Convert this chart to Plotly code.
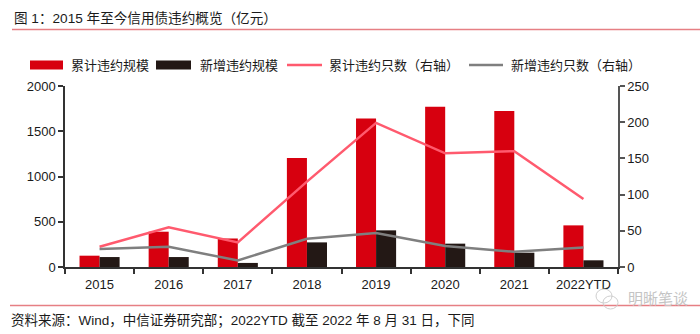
import plotly.graph_objects as go

years = ["2015", "2016", "2017", "2018", "2019", "2020", "2021", "2022YTD"]
cum_amount = [125, 390, 315, 1205, 1640, 1770, 1725, 460]      # 累计违约规模（亿元）
new_amount = [110, 110, 45, 272, 405, 258, 158, 74]            # 新增违约规模（亿元）
cum_count = [28, 55, 34, 118, 199, 157, 160, 94]               # 累计违约只数
new_count = [25, 28, 9, 39, 47, 29, 21, 27]                    # 新增违约只数

RED = "#d7000f"
DARK = "#231815"
PINK = "#ff5a6e"
GRAY = "#7f7f7f"
RULE = "#e67f84"
FONT = "Liberation Sans, Arial, Noto Sans CJK SC, sans-serif"

fig = go.Figure()
fig.add_bar(x=years, y=cum_amount, name="累计违约规模", marker_color=RED,
            marker_line_width=0, offsetgroup="a")
fig.add_bar(x=years, y=new_amount, name="新增违约规模", marker_color=DARK,
            marker_line_width=0, offsetgroup="b")
fig.add_scatter(x=years, y=cum_count, name="累计违约只数（右轴）", mode="lines",
                line=dict(color=PINK, width=2.5), yaxis="y2")
fig.add_scatter(x=years, y=new_count, name="新增违约只数（右轴）", mode="lines",
                line=dict(color=GRAY, width=2.5), yaxis="y2")

W, H = 700, 334
L, R, T, B = 65, 82, 86, 67
PW, PH = W - L - R, H - T - B

axis_common = dict(showgrid=False, zeroline=False, showline=True, linewidth=1.5,
                   ticks="outside", ticklen=5, tickwidth=1.5,
                   tickfont=dict(family=FONT, size=13, color="#1a1a1a"))

fig.update_layout(
    width=W, height=H,
    margin=dict(l=L, r=R, t=T, b=B),
    paper_bgcolor="white", plot_bgcolor="white",
    showlegend=False,
    barmode="group", bargap=0.42, bargroupgap=0,
    font=dict(family=FONT, size=13, color="#1a1a1a"),
    xaxis=dict(axis_common, linecolor="#333333", tickcolor="#333333",
               tickson="boundaries", ticklabelstandoff=5),
    yaxis=dict(axis_common, range=[0, 2000], dtick=500,
               linecolor="#333333", tickcolor="#333333"),
    yaxis2=dict(axis_common, range=[0, 250], dtick=50, overlaying="y", side="right",
                linecolor="#555555", tickcolor="#555555"),
)

shapes = []
annotations = []

# pixel position on the page -> paper coordinates (relative to the plot area)
def px(x):
    return (x - L) / PW

def py(y):
    return 1 - (y - T) / PH

# title and rules
annotations.append(dict(text="图 1：2015 年至今信用债违约概览（亿元）", x=px(12), y=py(18),
                        xref="paper", yref="paper", xanchor="left", yanchor="middle",
                        showarrow=False, font=dict(family=FONT, size=13.6, color="#1a1a1a")))
shapes.append(dict(type="line", xref="paper", yref="paper", x0=px(12), x1=px(700),
                   y0=py(29.5), y1=py(29.5), line=dict(color=RULE, width=1.5)))
shapes.append(dict(type="line", xref="paper", yref="paper", x0=px(10), x1=px(700),
                   y0=py(305.5), y1=py(305.5), line=dict(color=RULE, width=1.5)))
annotations.append(dict(text="资料来源：Wind，中信证券研究部；2022YTD 截至 2022 年 8 月 31 日，下同",
                        x=px(9), y=py(321), xref="paper", yref="paper",
                        xanchor="left", yanchor="middle", showarrow=False,
                        font=dict(family=FONT, size=13.5, color="#1a1a1a")))
annotations.append(dict(text="明晰笔谈", x=px(690), y=py(297), xref="paper", yref="paper",
                        xanchor="right", yanchor="middle", showarrow=False,
                        font=dict(family="Noto Sans CJK SC", size=15, color="#c4c4c4")))
shapes.append(dict(type="circle", xref="paper", yref="paper", x0=px(596), x1=px(612),
                   y0=py(303), y1=py(289), line=dict(color="#cfcfcf", width=1)))
shapes.append(dict(type="circle", xref="paper", yref="paper", x0=px(603), x1=px(618),
                   y0=py(309), y1=py(296), line=dict(color="#cfcfcf", width=1)))

# legend
ly = 65
legend_items = [
    ("rect", RED, 30, 63, "累计违约规模", 69),
    ("rect", DARK, 156, 191, "新增违约规模", 198),
    ("line", PINK, 287, 322, "累计违约只数（右轴）", 327),
    ("line", GRAY, 469, 503, "新增违约只数（右轴）", 509),
]
for kind, color, x0, x1, label, tx in legend_items:
    if kind == "rect":
        shapes.append(dict(type="rect", xref="paper", yref="paper", x0=px(x0), x1=px(x1),
                           y0=py(ly + 4.5), y1=py(ly - 4.5), fillcolor=color, line_width=0))
    else:
        shapes.append(dict(type="line", xref="paper", yref="paper", x0=px(x0), x1=px(x1),
                           y0=py(ly), y1=py(ly), line=dict(color=color, width=2.5)))
    annotations.append(dict(text=label, x=px(tx), y=py(ly), xref="paper", yref="paper",
                            xanchor="left", yanchor="middle", showarrow=False,
                            font=dict(family=FONT, size=13, color="#1a1a1a")))

fig.update_layout(shapes=shapes, annotations=annotations)
fig.write_html("out.html")
